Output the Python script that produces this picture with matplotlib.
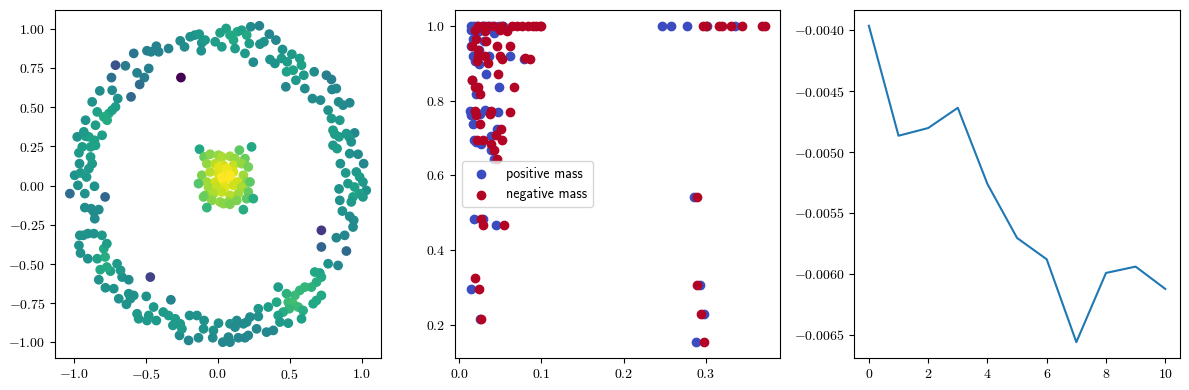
import numpy as np
import matplotlib
matplotlib.use("Agg")
import matplotlib.pyplot as plt

plt.rcParams['font.family'] = ['cmr10', 'DejaVu Sans']
plt.rcParams['mathtext.fontset'] = 'cm'
plt.rcParams['axes.formatter.use_mathtext'] = True
plt.rcParams['font.size'] = 10

# ---- panel 1: embedding, coloured by density (x, y, c) ----
ring_pts = [
    (-0.584, 0.843, 0.32), (-0.492, 0.860, 0.36), (-0.464, 0.853, 0.38), (-0.427, 0.889, 0.38),
    (-0.411, 0.853, 0.38), (-0.342, 0.874, 0.38), (-0.261, 0.923, 0.42), (-0.231, 0.885, 0.42),
    (-0.192, 0.949, 0.44), (-0.159, 0.960, 0.46), (-0.129, 0.966, 0.48), (-0.111, 0.911, 0.46),
    (-0.115, 0.860, 0.45), (-0.088, 0.928, 0.48), (-0.018, 0.917, 0.50), (0.016, 0.974, 0.52),
    (0.028, 0.885, 0.50), (0.058, 1.002, 0.52), (0.085, 0.960, 0.55), (0.109, 0.928, 0.55),
    (0.120, 0.874, 0.50), (0.136, 0.981, 0.55), (0.166, 0.991, 0.52), (0.201, 0.960, 0.55),
    (0.189, 0.843, 0.48), (0.219, 0.906, 0.50), (0.229, 1.013, 0.42), (0.247, 0.787, 0.42),
    (0.289, 1.019, 0.38), (0.293, 0.902, 0.45), (0.321, 0.917, 0.45), (0.358, 0.966, 0.40),
    (0.363, 0.804, 0.45), (0.404, 0.928, 0.40), (0.397, 0.779, 0.45), (0.450, 0.868, 0.45),
    (0.443, 0.811, 0.48), (0.483, 0.789, 0.50), (0.473, 0.630, 0.40), (0.478, 0.726, 0.52),
    (0.515, 0.838, 0.48), (0.524, 0.736, 0.52), (0.543, 0.672, 0.48), (0.570, 0.811, 0.50),
    (0.582, 0.768, 0.52), (0.598, 0.704, 0.48), (0.605, 0.619, 0.42), (0.670, 0.726, 0.42),
    (0.658, 0.555, 0.42), (0.714, 0.545, 0.42), (0.755, 0.704, 0.36), (0.790, 0.677, 0.36),
    (0.767, 0.481, 0.45), (0.794, 0.613, 0.40), (0.824, 0.619, 0.40), (0.840, 0.534, 0.42),
    (0.871, 0.513, 0.42), (0.917, 0.528, 0.40), (0.790, 0.428, 0.48), (0.848, 0.417, 0.48),
    (0.801, 0.353, 0.50), (0.813, 0.328, 0.50), (0.843, 0.311, 0.50), (0.894, 0.332, 0.48),
    (0.951, 0.336, 0.40), (0.912, 0.311, 0.48), (0.801, 0.257, 0.48), (0.829, 0.236, 0.50),
    (0.928, 0.279, 0.45), (0.917, 0.204, 0.45), (0.975, 0.200, 0.42), (0.852, 0.140, 0.45),
    (1.014, 0.140, 0.40), (0.889, 0.081, 0.48), (0.963, 0.087, 0.48), (0.986, 0.055, 0.50),
    (1.009, 0.023, 0.48), (0.905, 0.013, 0.48), (0.951, -0.009, 0.52), (1.032, -0.030, 0.45),
    (0.843, -0.021, 0.45), (0.986, -0.051, 0.52), (0.940, -0.072, 0.52), (0.848, -0.094, 0.45),
    (1.009, -0.072, 0.48), (0.928, -0.104, 0.48), (0.866, -0.162, 0.45), (0.917, -0.196, 0.42),
    (0.945, -0.221, 0.42), (0.940, -0.264, 0.42), (0.824, -0.332, 0.40), (0.882, -0.317, 0.40),
    (0.836, -0.509, 0.40), (0.767, -0.498, 0.45), (0.709, -0.557, 0.52), (0.720, -0.583, 0.55),
    (0.674, -0.551, 0.55), (0.686, -0.615, 0.58), (0.651, -0.647, 0.60), (0.720, -0.700, 0.55),
    (0.686, -0.732, 0.55), (0.663, -0.753, 0.55), (0.605, -0.647, 0.62), (0.570, -0.668, 0.62),
    (0.536, -0.700, 0.64), (0.478, -0.689, 0.60), (0.490, -0.743, 0.64), (0.524, -0.753, 0.66),
    (0.559, -0.774, 0.64), (0.593, -0.796, 0.58), (0.582, -0.849, 0.52), (0.497, -0.785, 0.62),
    (0.455, -0.806, 0.58), (0.420, -0.647, 0.50), (0.409, -0.743, 0.55), (0.420, -0.828, 0.52),
    (0.432, -0.870, 0.48), (0.490, -0.877, 0.48), (0.351, -0.774, 0.50), (0.282, -0.785, 0.48),
    (0.282, -0.834, 0.45), (0.270, -0.913, 0.40), (0.339, -0.934, 0.40), (0.386, -0.923, 0.40),
    (0.224, -0.838, 0.42), (0.201, -0.870, 0.42), (0.178, -0.881, 0.42), (0.212, -0.955, 0.40),
    (0.189, -0.970, 0.40), (0.132, -0.860, 0.42), (0.143, -0.970, 0.40), (0.085, -0.881, 0.44),
    (0.120, -0.902, 0.42), (0.074, -0.966, 0.40), (0.035, -0.998, 0.40), (0.085, -0.998, 0.40),
    (0.005, -0.877, 0.44), (-0.030, -0.923, 0.44), (-0.035, -0.970, 0.42), (-0.095, -0.860, 0.45),
    (-0.099, -0.913, 0.45), (-0.134, -0.970, 0.42), (-0.145, -0.828, 0.45), (-0.196, -0.828, 0.45),
    (-0.203, -0.987, 0.40), (-0.266, -0.955, 0.42), (-0.261, -0.881, 0.48), (-0.249, -0.913, 0.48),
    (-0.296, -0.849, 0.50), (-0.312, -0.891, 0.48), (-0.342, -0.828, 0.50), (-0.379, -0.806, 0.48),
    (-0.326, -0.728, 0.38), (-0.427, -0.860, 0.48), (-0.446, -0.774, 0.48), (-0.480, -0.828, 0.48),
    (-0.497, -0.706, 0.45), (-0.492, -0.860, 0.48), (-0.561, -0.817, 0.48), (-0.550, -0.849, 0.48),
    (-0.584, -0.700, 0.45), (-0.607, -0.721, 0.45), (-0.635, -0.757, 0.45), (-0.619, -0.689, 0.45),
    (-0.688, -0.721, 0.45), (-0.723, -0.657, 0.45), (-0.781, -0.651, 0.45), (-0.827, -0.600, 0.45),
    (-0.665, -0.583, 0.45), (-0.676, -0.540, 0.48), (-0.700, -0.498, 0.48), (-0.619, -0.600, 0.42),
    (-0.746, -0.545, 0.52), (-0.771, -0.519, 0.56), (-0.817, -0.536, 0.55), (-0.838, -0.466, 0.52),
    (-0.783, -0.455, 0.58), (-0.792, -0.402, 0.55), (-0.771, -0.370, 0.50), (-0.805, -0.317, 0.48),
    (-0.861, -0.306, 0.45), (-0.903, -0.306, 0.45), (-0.935, -0.317, 0.45), (-0.959, -0.317, 0.45),
    (-0.965, -0.381, 0.45), (-0.954, -0.430, 0.45), (-0.903, -0.466, 0.45), (-0.855, -0.211, 0.42),
    (-0.861, -0.168, 0.42), (-0.827, -0.153, 0.42), (-0.880, -0.147, 0.42), (-0.924, -0.140, 0.42),
    (-0.924, -0.051, 0.45), (-0.972, 0.002, 0.45), (-0.995, 0.066, 0.45), (-0.954, 0.081, 0.48),
    (-0.912, 0.055, 0.48), (-0.857, -0.004, 0.45), (-0.896, 0.108, 0.48), (-0.873, 0.140, 0.48),
    (-0.961, 0.140, 0.45), (-0.884, 0.183, 0.50), (-0.965, 0.209, 0.48), (-0.942, 0.247, 0.50),
    (-0.884, 0.247, 0.52), (-0.850, 0.257, 0.52), (-0.977, 0.311, 0.45), (-0.919, 0.315, 0.52),
    (-0.896, 0.311, 0.52), (-0.857, 0.289, 0.52), (-0.804, 0.321, 0.50), (-0.931, 0.343, 0.48),
    (-0.850, 0.385, 0.50), (-0.919, 0.417, 0.45), (-0.838, 0.470, 0.52), (-0.792, 0.438, 0.56),
    (-0.757, 0.460, 0.56), (-0.734, 0.481, 0.52), (-0.769, 0.417, 0.56), (-0.711, 0.502, 0.50),
    (-0.695, 0.555, 0.45), (-0.734, 0.608, 0.42), (-0.820, 0.604, 0.42), (-0.873, 0.534, 0.45),
    (-0.561, 0.719, 0.38), (-0.510, 0.689, 0.36), (-0.480, 0.747, 0.36), (-0.642, 0.764, 0.35),
]
odd_pts = [
    (-0.256, 0.689, -0.12), (0.720, -0.285, 0.06), (-0.469, -0.583, 0.10), (-0.711, 0.768, 0.16),
    (0.720, -0.391, 0.24), (0.894, -0.417, 0.26), (-0.783, -0.072, 0.24), (-0.603, 0.566, 0.26),
    (-0.543, 0.645, 0.27), (-1.028, -0.051, 0.28), (-0.739, 0.689, 0.30),
]
core_pts = [
    (-0.127, 0.232, 0.55), (0.235, 0.247, 0.55), (0.150, 0.226, 0.72), (-0.095, 0.183, 0.74),
    (-0.053, 0.200, 0.80), (0.005, 0.194, 0.82), (0.028, 0.183, 0.86), (0.085, 0.187, 0.84),
    (0.120, 0.172, 0.82), (0.189, 0.172, 0.74), (-0.076, 0.140, 0.82), (-0.018, 0.140, 0.88),
    (0.039, 0.130, 0.92), (0.109, 0.130, 0.90), (0.166, 0.140, 0.82), (0.212, 0.119, 0.76),
    (-0.111, 0.066, 0.78), (-0.053, 0.087, 0.88), (0.005, 0.077, 0.93), (0.062, 0.077, 0.98),
    (0.109, 0.087, 0.93), (0.178, 0.066, 0.84), (-0.076, 0.023, 0.84), (-0.018, 0.023, 0.92),
    (0.039, 0.034, 0.98), (0.085, 0.045, 1.00), (0.136, 0.023, 0.92), (0.201, 0.023, 0.80),
    (-0.134, 0.013, 0.70), (-0.065, -0.009, 0.84), (-0.007, -0.009, 0.90), (0.051, -0.009, 0.95),
    (0.109, 0.002, 0.92), (0.166, -0.009, 0.86), (0.224, 0.023, 0.72), (-0.088, -0.062, 0.78),
    (-0.030, -0.051, 0.86), (0.028, -0.040, 0.90), (0.085, -0.062, 0.88), (0.143, -0.051, 0.84),
    (0.212, -0.040, 0.74), (-0.099, -0.072, 0.74), (-0.041, -0.094, 0.80), (0.016, -0.104, 0.82),
    (0.074, -0.104, 0.82), (0.132, -0.094, 0.78), (0.201, -0.083, 0.72), (0.247, -0.083, 0.58),
    (-0.076, -0.140, 0.62), (0.039, -0.115, 0.80), (0.085, -0.119, 0.78), (0.178, -0.153, 0.58),
    (0.005, 0.119, 0.95), (0.062, 0.108, 0.97), (0.028, 0.055, 1.00), (0.085, 0.066, 1.00),
]

# ---- panel 2: mass vs score ----
pos_x = [0.246, 0.258, 0.277, 0.301, 0.335, 0.286, 0.293, 0.298, 0.288,
         0.015, 0.025, 0.018, 0.029, 0.045,
         0.014, 0.018, 0.022, 0.028, 0.032, 0.036, 0.040, 0.049, 0.053,
         0.015, 0.024, 0.042, 0.017, 0.030, 0.015, 0.024, 0.017, 0.036, 0.062, 0.079,
         0.019, 0.024, 0.033, 0.016, 0.020, 0.049, 0.021,
         0.013, 0.015, 0.031, 0.026, 0.047, 0.017, 0.046, 0.039, 0.018, 0.021, 0.027, 0.039, 0.042]
pos_y = [1.0, 1.0, 1.0, 1.0, 1.0, 0.541, 0.305, 0.229, 0.153,
         0.296, 0.215, 0.483, 0.483, 0.468,
         1.0, 1.0, 1.0, 1.0, 1.0, 1.0, 1.0, 1.0, 1.0,
         0.990, 0.985, 0.980, 0.965, 0.960, 0.945, 0.935, 0.918, 0.918, 0.918, 0.912,
         0.905, 0.897, 0.870, 0.856, 0.837, 0.837, 0.817,
         0.773, 0.760, 0.775, 0.765, 0.768, 0.738, 0.725, 0.706, 0.695, 0.690, 0.683, 0.668, 0.644]
neg_x = [0.296, 0.300, 0.316, 0.319, 0.331, 0.344, 0.368, 0.372, 0.289, 0.289, 0.294, 0.298,
         0.024, 0.019, 0.027, 0.027, 0.029, 0.054,
         0.023, 0.029, 0.035, 0.043, 0.052, 0.064, 0.070, 0.076, 0.084, 0.090, 0.094, 0.098, 0.100,
         0.019, 0.031, 0.050, 0.058, 0.021, 0.033, 0.016, 0.046, 0.062, 0.023,
         0.023, 0.031, 0.050, 0.052, 0.080, 0.086, 0.022, 0.035, 0.047, 0.016,
         0.019, 0.023, 0.067, 0.025, 0.019, 0.020, 0.038, 0.039, 0.062, 0.026, 0.051,
         0.045, 0.022, 0.029, 0.052, 0.039, 0.042, 0.046]
neg_y = [1.0, 1.0, 1.0, 1.0, 1.0, 1.0, 1.0, 1.0, 0.541, 0.305, 0.229, 0.153,
         0.296, 0.324, 0.215, 0.483, 0.467, 0.468,
         1.0, 1.0, 1.0, 1.0, 1.0, 1.0, 1.0, 1.0, 1.0, 1.0, 1.0, 1.0, 1.0,
         0.988, 0.985, 0.990, 0.985, 0.965, 0.960, 0.945, 0.945, 0.945, 0.935,
         0.918, 0.918, 0.918, 0.912, 0.915, 0.910, 0.905, 0.900, 0.870, 0.856,
         0.837, 0.837, 0.837, 0.817, 0.773, 0.760, 0.765, 0.773, 0.768, 0.738, 0.725,
         0.707, 0.695, 0.695, 0.695, 0.683, 0.668, 0.644]

# ---- panel 3: objective per step ----
steps = list(range(11))
objective = [-0.003964, -0.004866, -0.004803, -0.004637, -0.005262, -0.005705,
             -0.005880, -0.006560, -0.005992, -0.005940, -0.006123]

fig = plt.figure(figsize=(11.89, 3.9), dpi=100)
ax1 = fig.add_axes([0.0463, 0.0821, 0.2742, 0.8923])
ax2 = fig.add_axes([0.3827, 0.0821, 0.2733, 0.8923])
ax3 = fig.add_axes([0.7183, 0.0821, 0.2742, 0.8923])

pts = np.array(ring_pts + odd_pts + core_pts)
ax1.scatter(pts[:, 0], pts[:, 1], c=pts[:, 2], cmap='viridis', vmin=-0.12, vmax=1.0)

ax2.scatter(pos_x, pos_y, color='#3b4cc0', label='positive mass')
ax2.scatter(neg_x, neg_y, color='#b40426', label='negative mass')
ax2.legend(loc='center left', prop={'family': 'cmss10', 'size': 10})

ax3.plot(steps, objective)
ax3.set_yticks([-0.0040, -0.0045, -0.0050, -0.0055, -0.0060, -0.0065])
ax3.set_yticklabels(['$-0.0040$', '$-0.0045$', '$-0.0050$', '$-0.0055$', '$-0.0060$', '$-0.0065$'])

fig.savefig('out.png', dpi=100)
